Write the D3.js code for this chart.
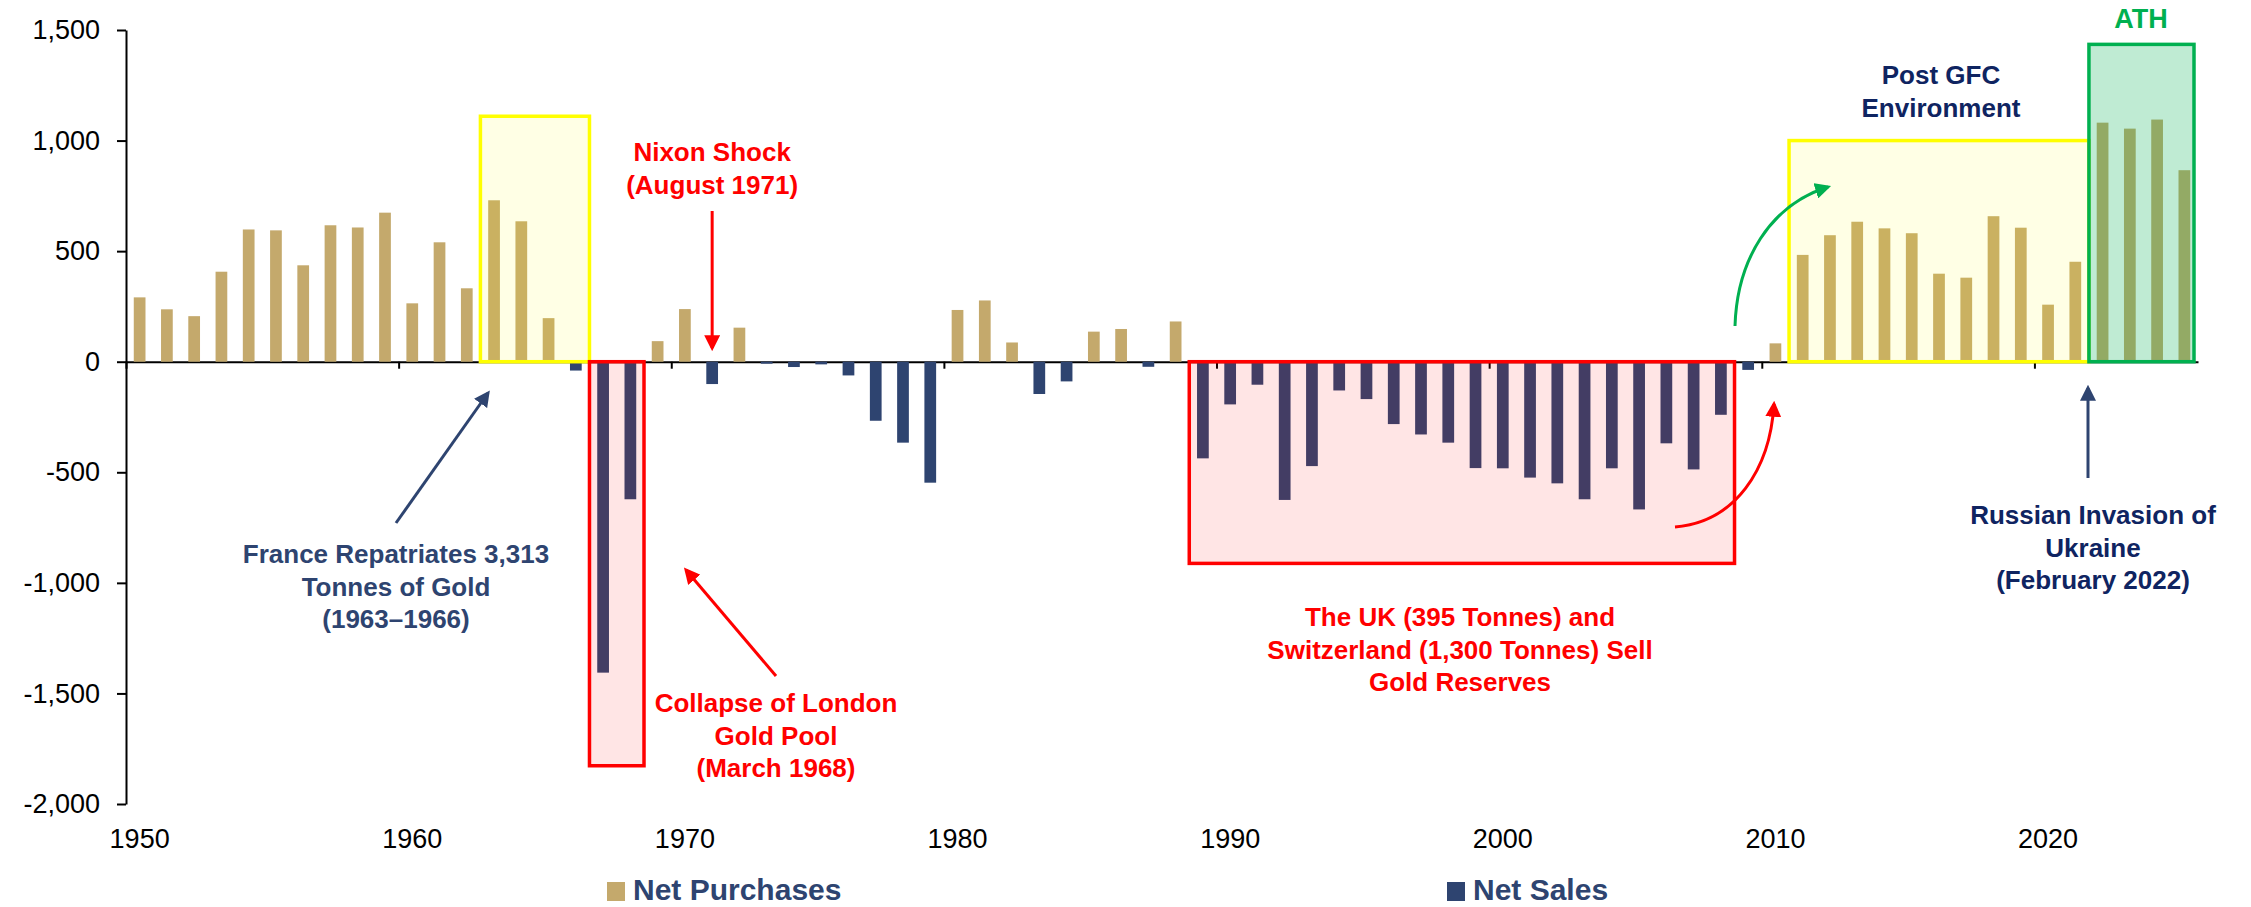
<!DOCTYPE html>
<html>
<head>
<meta charset="utf-8">
<script src="https://cdn.jsdelivr.net/npm/d3@7"></script>
<style>
  body { margin: 0; background: #fff; }
  text { font-family: Arial, "Liberation Sans", sans-serif; }
</style>
</head>
<body>
<svg id="chart" width="2251" height="907"></svg>
<script>
// 연도 (카테고리)
const years = [
  1950, 1951, 1952, 1953, 1954, 1955, 1956, 1957, 1958, 1959,
  1960, 1961, 1962, 1963, 1964, 1965, 1966, 1967, 1968, 1969,
  1970, 1971, 1972, 1973, 1974, 1975, 1976, 1977, 1978, 1979,
  1980, 1981, 1982, 1983, 1984, 1985, 1986, 1987, 1988, 1989,
  1990, 1991, 1992, 1993, 1994, 1995, 1996, 1997, 1998, 1999,
  2000, 2001, 2002, 2003, 2004, 2005, 2006, 2007, 2008, 2009,
  2010, 2011, 2012, 2013, 2014, 2015, 2016, 2017, 2018, 2019,
  2020, 2021, 2022, 2023, 2024, 2025
];

// 중앙은행 금 순매입/순매도 (톤)
const netFlows = [
  291, 237, 206, 407, 598, 594, 436, 617, 607, 674,
  264, 540, 332, 730, 635, 197, -40, -1406, -622, 93,
  238, -101, 154, -9, -24, -12, -62, -267, -366, -547,
  234, 277, 87, -146, -89, 136, 148, -23, 182, -437,
  -193, -104, -625, -472, -130, -169, -282, -329, -366, -481,
  -482, -524, -550, -622, -482, -668, -369, -487, -240, -37,
  83, 483, 572, 633, 603, 581, 398, 380, 658, 606,
  258, 452, 1081, 1054, 1095, 866
];

const yTicks = [-2000, -1500, -1000, -500, 0, 500, 1000, 1500];
const xLabelYears = [1950, 1960, 1970, 1980, 1990, 2000, 2010, 2020];
const legendLabels = ["Net Purchases", "Net Sales"];

const data = years.map((yr, i) => ({ year: yr, value: netFlows[i] }));

const gold = "#C4A96C";
const navy = "#2E4470";
const darkBlue = "#0F2461";
const red = "#FF0000";
const green = "#00B050";

const svg = d3.select("#chart");

// 스케일
const x = d3.scaleBand().domain(years).range([126, 2198]).padding(0);
const y = d3.scaleLinear().domain([-2000, 1500]).range([804, 30]);
const barW = x.bandwidth() * 0.43;

// 마커 (화살촉)
const defs = svg.append("defs");
[["arrRed", red], ["arrNavy", navy], ["arrGreen", green]].forEach(([id, c]) => {
  defs.append("marker")
    .attr("id", id)
    .attr("viewBox", "0 0 10 10")
    .attr("refX", 8).attr("refY", 5)
    .attr("markerUnits", "userSpaceOnUse")
    .attr("markerWidth", 16).attr("markerHeight", 16)
    .attr("orient", "auto")
    .append("path")
    .attr("d", "M0,0 L10,5 L0,10 Z")
    .attr("fill", c);
});

// Y축 (엑셀처럼 하이픈 마이너스 사용)
const fmt = d3.format(",");
const yAxis = svg.append("g")
  .attr("transform", `translate(126,0)`)
  .call(d3.axisLeft(y).tickValues(yTicks)
    .tickFormat(d => fmt(d).replace("\u2212", "-"))
    .tickSize(9).tickSizeOuter(0).tickPadding(17));
yAxis.select(".domain").attr("stroke", "#000").attr("stroke-width", 2);
yAxis.selectAll(".tick line").attr("stroke", "#000").attr("stroke-width", 2);
yAxis.selectAll("text").attr("font-size", 27).attr("fill", "#000")
  .style("font-family", "Arial, 'Liberation Sans', sans-serif");

// X축 (0 라인 + 10년 단위 눈금)
const xc = d3.scaleLinear().domain([1950, 2026]).range([126, 2198]);
const xAxis = svg.append("g")
  .attr("transform", `translate(0,${y(0)})`)
  .call(d3.axisBottom(xc).tickValues(xLabelYears).tickFormat("").tickSize(7).tickSizeOuter(0));
xAxis.select(".domain").attr("stroke", "#000").attr("stroke-width", 2);
xAxis.selectAll(".tick line").attr("stroke", "#000").attr("stroke-width", 2);

// X축 레이블
const xLab = svg.append("g")
  .attr("transform", `translate(0,829)`)
  .call(d3.axisBottom(x).tickValues(xLabelYears).tickSize(0).tickPadding(0));
xLab.select(".domain").remove();
xLab.selectAll("text").attr("font-size", 27).attr("fill", "#000")
  .style("font-family", "Arial, 'Liberation Sans', sans-serif");

// 막대
svg.append("g").selectAll("rect")
  .data(data)
  .enter()
  .append("rect")
  .attr("x", d => x(d.year) + (x.bandwidth() - barW) / 2)
  .attr("width", barW)
  .attr("y", d => y(Math.max(0, d.value)))
  .attr("height", d => Math.abs(y(d.value) - y(0)))
  .attr("fill", d => d.value >= 0 ? gold : navy);

// 강조 박스
function box(y0, y1, top, bottom, fill, stroke, x1) {
  const left = x(y0);
  const right = x1 !== undefined ? x1 : x(y1) + x.bandwidth();
  svg.append("rect")
    .attr("x", left)
    .attr("y", y(top))
    .attr("width", right - left)
    .attr("height", y(bottom) - y(top))
    .attr("fill", fill)
    .attr("stroke", stroke)
    .attr("stroke-width", 3.5);
}
box(1963, 1966, 1110, 0, "rgba(255,255,0,0.1)", "#FFFF00");
box(1967, 1968, 0, -1827, "rgba(255,0,0,0.1)", red);
box(1989, 2008, 0, -912, "rgba(255,0,0,0.1)", red, x(2009));
box(2011, 2021, 1000, 0, "rgba(255,255,0,0.1)", "#FFFF00");
box(2022, 2025, 1435, 0, "rgba(0,176,80,0.25)", green, x(2025) + x.bandwidth() - 4);

// 화살표
function arrow(d, color, marker) {
  svg.append("path")
    .attr("d", d)
    .attr("fill", "none")
    .attr("stroke", color)
    .attr("stroke-width", 3)
    .attr("marker-end", `url(#${marker})`);
}
const nx = x(1971) + x.bandwidth() / 2;
arrow(`M${nx},211 L${nx},348`, red, "arrRed");
arrow("M396,523 L488,393", navy, "arrNavy");
arrow("M776,676 L686,570", red, "arrRed");
arrow("M2088,478 L2088,388", navy, "arrNavy");
arrow("M1675,527 C1735,522 1770,470 1774,404", red, "arrRed");
arrow("M1735,326 C1737,260 1770,205 1828,187", green, "arrGreen");

// 주석 텍스트
function label(lines, cx, baseline, color, size) {
  const t = svg.append("text")
    .attr("text-anchor", "middle")
    .attr("font-weight", "bold")
    .attr("font-size", size || 26)
    .attr("fill", color);
  lines.forEach((ln, i) => {
    t.append("tspan").attr("x", cx).attr("y", baseline + i * 32.5).text(ln);
  });
}
label(["Nixon Shock", "(August 1971)"], nx, 161, red);
label(["France Repatriates 3,313", "Tonnes of Gold", "(1963\u20131966)"], 396, 563, navy);
label(["Collapse of London", "Gold Pool", "(March 1968)"], 776, 712, red);
label(["The UK (395 Tonnes) and", "Switzerland (1,300 Tonnes) Sell", "Gold Reserves"], 1460, 626, red);
label(["Post GFC", "Environment"], 1941, 84, darkBlue);
label(["Russian Invasion of", "Ukraine", "(February 2022)"], 2093, 524, darkBlue);
label(["ATH"], 2141, 28, green, 27);

// 범례
const legendPos = [607, 1447];
legendLabels.forEach((name, i) => {
  const lg = svg.append("g").attr("transform", `translate(${legendPos[i]},882)`);
  lg.append("rect")
    .attr("width", 18).attr("height", 19)
    .attr("fill", i === 0 ? gold : navy);
  lg.append("text")
    .attr("x", 26).attr("y", 18)
    .attr("font-size", 30)
    .attr("font-weight", "bold")
    .attr("fill", navy)
    .text(name);
});
</script>
</body>
</html>
